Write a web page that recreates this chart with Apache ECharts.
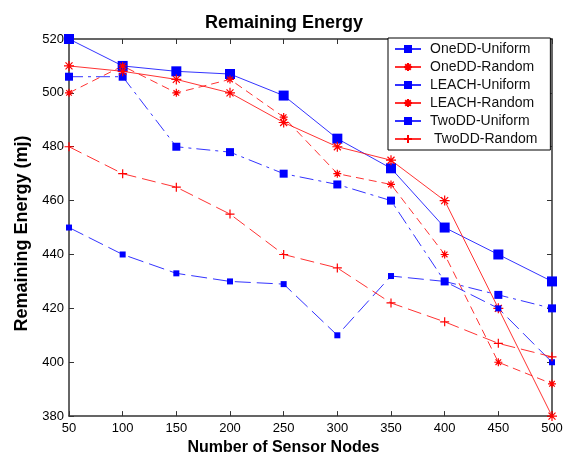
<!DOCTYPE html>
<html>
<head>
<meta charset="utf-8">
<script src="https://cdn.jsdelivr.net/npm/echarts@6/dist/echarts.min.js"></script>
<style>
    html, body { margin: 0; padding: 0; background: #fff; }
    #chart { width: 568px; height: 461px; }
</style>
</head>
<body>
<div id="chart"></div>
<script>
    // x values (number of sensor nodes)
    var nodes = [50, 100, 150, 200, 250, 300, 350, 400, 450, 500]
    // remaining energy per protocol / deployment
    var oneddUniform = [520, 510, 508, 507, 499, 483, 472, 450, 440, 430]
    var oneddRandom = [500, 510, 500, 505, 491, 470, 466, 440, 400, 392]
    var leachUniform = [506, 506, 480, 478, 470, 466, 460, 430, 425, 420]
    var leachRandom = [510, 508, 505, 500, 489, 480, 475, 460, 420, 380]
    var twoddUniform = [450, 440, 433, 430, 429, 410, 432, 430, 420, 400]
    var twoddRandom = [480, 470, 465, 455, 440, 435, 422, 415, 407, 402]
    var yTicks = [380, 400, 420, 440, 460, 480, 500, 520]
    var legendNames = ['OneDD-Uniform', 'OneDD-Random', 'LEACH-Uniform', 'LEACH-Random', 'TwoDD-Uniform', ' TwoDD-Random']

    var FONT = 'Liberation Sans, Arial, sans-serif'
    var BLUE = '#0000ff'
    var RED = '#ff0000'
    var STAR = 'path://M0,-10L0,10M-10,0L10,0M-7,-7L7,7M-7,7L7,-7'
    var PLUS = 'path://M0,-10L0,10M-10,0L10,0'

    function pairs(vals) {
        return nodes.map(function (x, i) { return [x, vals[i]] })
    }

    function makeSeries(name, vals, color, symbol, size, dash, stroke) {
        return {
            name: name,
            type: 'line',
            data: pairs(vals),
            symbol: symbol,
            symbolSize: size,
            showSymbol: true,
            animation: false,
            lineStyle: { color: color, width: 1, type: dash, opacity: 0.8 },
            itemStyle: stroke
                ? { color: 'rgba(0,0,0,0)', borderColor: color, borderWidth: 1.2 }
                : { color: color, borderWidth: 0 }
        }
    }

    var chart = echarts.init(document.getElementById('chart'))

    var axisCommon = {
        type: 'value',
        axisLine: { show: true, lineStyle: { color: '#333', width: 1.5 } },
        axisTick: { show: true, inside: true, length: 5, lineStyle: { color: '#333' } },
        splitLine: { show: false }
    }

    chart.setOption({
        backgroundColor: '#fff',
        title: {
            text: 'Remaining Energy',
            left: 'center',
            top: 9,
            textStyle: { fontFamily: FONT, fontSize: 18, fontWeight: 'bold', color: '#000' }
        },
        grid: { left: 69, right: 16, top: 39, bottom: 40 },
        legend: {
            orient: 'vertical',
            left: 388,
            top: 38,
            padding: [4, 13, 4, 6],
            itemWidth: 26,
            itemHeight: 10,
            itemGap: 4,
            backgroundColor: '#fff',
            borderColor: '#000',
            borderWidth: 1,
            textStyle: { fontFamily: FONT, fontSize: 14, color: '#111', padding: [0, 0, 0, 4] },
            data: legendNames.map(function (n) {
                return { name: n, lineStyle: { type: 'solid' } }
            })
        },
        xAxis: [
            Object.assign({}, axisCommon, {
                min: 50, max: 500, interval: 50,
                position: 'bottom',
                name: 'Number of Sensor Nodes',
                nameLocation: 'middle',
                nameGap: 23,
                nameTextStyle: { fontFamily: FONT, fontSize: 16, fontWeight: 'bold', color: '#000', padding: [0, 54, 0, 0] },
                axisLabel: { fontFamily: FONT, fontSize: 13, color: '#000', margin: 6 }
            }),
            Object.assign({}, axisCommon, {
                min: 50, max: 500, interval: 50,
                position: 'top',
                axisLabel: { show: false }
            })
        ],
        yAxis: [
            Object.assign({}, axisCommon, {
                min: yTicks[0], max: yTicks[yTicks.length - 1], interval: 20,
                position: 'left',
                name: 'Remaining Energy (mj)',
                nameLocation: 'middle',
                nameGap: 35,
                nameTextStyle: { fontFamily: FONT, fontSize: 18, fontWeight: 'bold', color: '#000', padding: [0, 12, 0, 0] },
                axisLabel: { fontFamily: FONT, fontSize: 13, color: '#000', margin: 5 }
            }),
            Object.assign({}, axisCommon, {
                min: yTicks[0], max: yTicks[yTicks.length - 1], interval: 20,
                position: 'right',
                axisLabel: { show: false }
            })
        ],
        series: [
            makeSeries(legendNames[0], oneddUniform, BLUE, 'rect', 10, 'solid', false),
            makeSeries(legendNames[1], oneddRandom, RED, STAR, 8, [8, 5], true),
            makeSeries(legendNames[2], leachUniform, BLUE, 'rect', 8, [14, 5, 3, 5], false),
            makeSeries(legendNames[3], leachRandom, RED, STAR, 10, 'solid', true),
            makeSeries(legendNames[4], twoddUniform, BLUE, 'rect', 6, [16, 6], false),
            makeSeries(legendNames[5], twoddRandom, RED, PLUS, 9, [14, 6], true)
        ]
    })
</script>
</body>
</html>
